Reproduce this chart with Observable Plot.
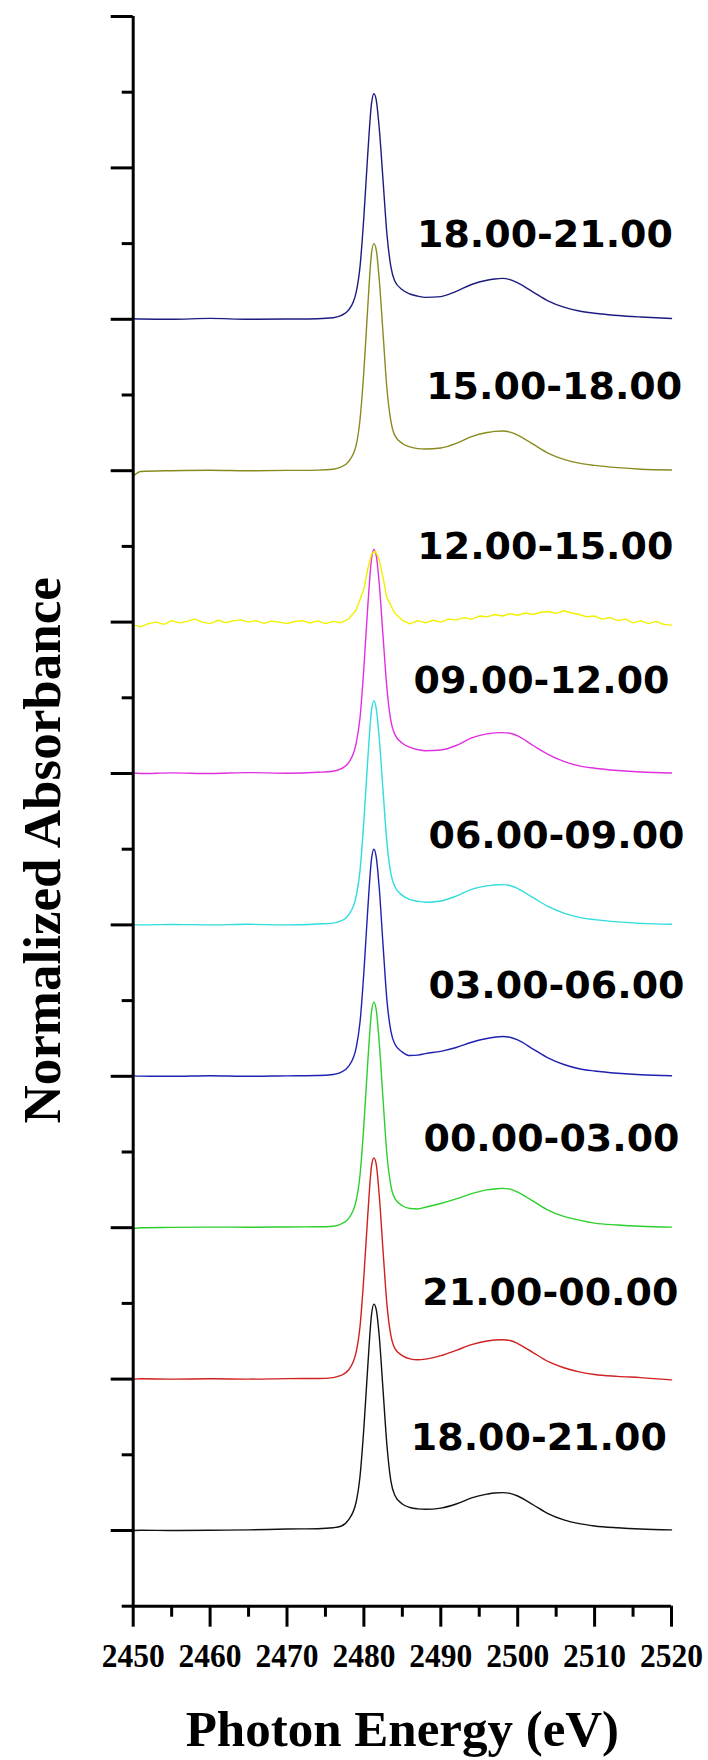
<!DOCTYPE html>
<html>
<head>
<meta charset="utf-8">
<script src="https://cdn.jsdelivr.net/npm/d3@7"></script>
<script src="https://cdn.jsdelivr.net/npm/@observablehq/plot@0.6"></script>
<style>
  html, body { margin: 0; padding: 0; background: #fff; }
  #chart svg { display: block; }
</style>
</head>
<body>
<div id="chart"></div>
<script>
// ---- Data ----
// shared energy grid (eV)
const energy = [2450, 2451, 2455, 2460, 2465, 2470, 2474, 2476, 2477, 2478, 2479, 2479.5, 2480, 2480.5, 2481, 2481.3, 2481.6, 2482, 2482.5, 2483, 2483.5, 2484, 2485, 2486, 2487, 2488, 2490, 2492, 2494, 2496, 2497, 2498, 2499, 2500, 2502, 2504, 2506, 2508, 2510, 2513, 2516, 2520];

const sBlack18 = [0.0, 0.002, 0.0, 0.002, 0.004, 0.01, 0.012, 0.018, 0.028, 0.07, 0.19, 0.36, 0.68, 1.08, 1.43, 1.495, 1.46, 1.28, 0.92, 0.56, 0.33, 0.235, 0.175, 0.152, 0.143, 0.14, 0.148, 0.175, 0.215, 0.24, 0.248, 0.25, 0.245, 0.228, 0.17, 0.11, 0.07, 0.045, 0.03, 0.018, 0.01, 0.004];
const sRed21 = [0.0, 0.002, 0.0, 0.002, 0.0, 0.003, 0.004, 0.01, 0.024, 0.06, 0.18, 0.35, 0.68, 1.08, 1.41, 1.46, 1.42, 1.21, 0.84, 0.49, 0.29, 0.205, 0.155, 0.134, 0.128, 0.132, 0.155, 0.19, 0.228, 0.252, 0.258, 0.26, 0.255, 0.235, 0.175, 0.115, 0.075, 0.048, 0.03, 0.018, 0.01, -0.005];
const sGreen00 = [-0.005, 0.0, 0.002, 0.004, 0.003, 0.005, 0.006, 0.01, 0.024, 0.06, 0.18, 0.35, 0.68, 1.09, 1.43, 1.49, 1.44, 1.22, 0.84, 0.48, 0.28, 0.195, 0.145, 0.127, 0.124, 0.135, 0.16, 0.19, 0.225, 0.25, 0.256, 0.26, 0.255, 0.235, 0.175, 0.115, 0.075, 0.05, 0.03, 0.018, 0.01, 0.004];
const sBlue03 = [0.003, 0.001, 0.0, 0.004, 0.0, 0.003, 0.005, 0.012, 0.026, 0.065, 0.19, 0.36, 0.69, 1.10, 1.44, 1.50, 1.45, 1.24, 0.86, 0.50, 0.30, 0.215, 0.16, 0.137, 0.14, 0.15, 0.165, 0.19, 0.225, 0.25, 0.258, 0.263, 0.258, 0.24, 0.18, 0.12, 0.078, 0.05, 0.035, 0.02, 0.01, 0.004];
const sCyan06 = [0.002, 0.0, 0.003, 0.0, 0.004, 0.0, 0.006, 0.012, 0.026, 0.065, 0.19, 0.36, 0.69, 1.09, 1.42, 1.48, 1.43, 1.23, 0.88, 0.54, 0.34, 0.255, 0.195, 0.167, 0.156, 0.15, 0.158, 0.19, 0.235, 0.258, 0.264, 0.266, 0.26, 0.24, 0.18, 0.12, 0.078, 0.05, 0.035, 0.02, 0.01, 0.004];
const sMagenta09 = [0.003, 0.0, 0.004, 0.0, 0.006, 0.002, 0.008, 0.015, 0.03, 0.07, 0.2, 0.37, 0.70, 1.10, 1.42, 1.48, 1.44, 1.25, 0.90, 0.56, 0.35, 0.26, 0.2, 0.172, 0.158, 0.15, 0.155, 0.185, 0.235, 0.262, 0.268, 0.27, 0.266, 0.248, 0.185, 0.125, 0.08, 0.05, 0.035, 0.02, 0.01, 0.003];
const sOlive15 = [-0.035, -0.005, 0.0, 0.003, 0.0, 0.002, 0.004, 0.01, 0.024, 0.06, 0.17, 0.34, 0.66, 1.08, 1.44, 1.50, 1.46, 1.26, 0.90, 0.54, 0.33, 0.235, 0.18, 0.157, 0.146, 0.143, 0.15, 0.18, 0.225, 0.252, 0.26, 0.262, 0.255, 0.235, 0.175, 0.115, 0.075, 0.05, 0.035, 0.02, 0.01, 0.005];
const sNavy18 = [0.004, 0.002, 0.0, 0.006, 0.0, 0.002, 0.004, 0.01, 0.024, 0.06, 0.18, 0.35, 0.68, 1.09, 1.43, 1.49, 1.45, 1.26, 0.91, 0.56, 0.35, 0.255, 0.195, 0.167, 0.153, 0.145, 0.15, 0.185, 0.23, 0.258, 0.266, 0.27, 0.262, 0.24, 0.18, 0.12, 0.08, 0.055, 0.04, 0.025, 0.015, 0.005];

// the noisy 12.00-15.00 spectrum has its own, denser grid
const energyYellow = [2450, 2451, 2452, 2453, 2454, 2455, 2456, 2457, 2458, 2459, 2460, 2461, 2462, 2463, 2464, 2465, 2466, 2467, 2468, 2469, 2470, 2471, 2472, 2473, 2474, 2475, 2476, 2477, 2478, 2479, 2480, 2480.5, 2481, 2481.5, 2482, 2482.5, 2483, 2484, 2485, 2486, 2487, 2488, 2489, 2490, 2491, 2492, 2493, 2494, 2495, 2496, 2497, 2498, 2499, 2500, 2501, 2502, 2503, 2504, 2505, 2506, 2507, 2508, 2509, 2510, 2511, 2512, 2513, 2514, 2515, 2516, 2517, 2518, 2519, 2520];
const sYellow12 = [-0.02, -0.03, -0.01, 0.0, -0.015, 0.01, -0.005, 0.005, 0.02, 0.0, -0.01, 0.012, -0.004, 0.008, 0.015, 0.0, 0.01, -0.008, 0.006, 0.0, -0.01, 0.004, 0.01, -0.006, 0.008, -0.01, 0.005, -0.004, 0.02, 0.08, 0.22, 0.35, 0.45, 0.47, 0.41, 0.29, 0.16, 0.06, 0.012, -0.012, 0.01, -0.005, 0.012, 0.0, 0.02, 0.015, 0.03, 0.02, 0.04, 0.035, 0.05, 0.04, 0.055, 0.045, 0.06, 0.05, 0.065, 0.07, 0.058, 0.075, 0.06, 0.05, 0.035, 0.04, 0.02, 0.03, 0.01, 0.02, -0.005, 0.01, -0.01, 0.005, -0.015, -0.02];

// series, bottom to top (vertical offset = stack index)
const seriesLabels = ["18.00-21.00", "21.00-00.00", "00.00-03.00", "03.00-06.00", "06.00-09.00", "09.00-12.00", "12.00-15.00", "15.00-18.00", "18.00-21.00"];
const seriesValues = [sBlack18, sRed21, sGreen00, sBlue03, sCyan06, sMagenta09, sYellow12, sOlive15, sNavy18];
const seriesEnergies = [energy, energy, energy, energy, energy, energy, energyYellow, energy, energy];
const seriesOffsets = [0, 1, 2, 3, 4, 5, 6, 7, 8];
const seriesColors = ["#111111", "#d02020", "#2cd02c", "#2020b0", "#30dcdc", "#e030e0", "#f0f000", "#8a8a1e", "#1c1c80"];
const seriesCurves = ["monotone-x", "monotone-x", "monotone-x", "monotone-x", "monotone-x", "monotone-x", "linear", "monotone-x", "monotone-x"];

// label anchors (data coordinates)
const labelEnergy = [2486.1, 2487.6, 2487.75, 2488.4, 2488.4, 2486.45, 2486.95, 2488.1, 2486.9];
const labelLevel = [0.61, 1.57, 2.59, 3.60, 4.59, 5.615, 6.495, 7.555, 8.555];

// axes
const xMajor = [2450, 2460, 2470, 2480, 2490, 2500, 2510, 2520];
const xMinor = [2455, 2465, 2475, 2485, 2495, 2505, 2515];
const yMajor = [0, 1, 2, 3, 4, 5, 6, 7, 8, 9, 10];
const yMinor = [-0.5, 0.5, 1.5, 2.5, 3.5, 4.5, 5.5, 6.5, 7.5, 8.5, 9.5];
const xDomain = [2450, 2520];
const yDomain = [-0.5, 10];

// ---- Build ----
const lines = seriesValues.map((vals, i) => {
  const rows = vals.map((v, j) => ({E: seriesEnergies[i][j], v: v + seriesOffsets[i]}));
  return Plot.line(rows, {x: "E", y: "v", stroke: seriesColors[i], strokeWidth: 1.4, curve: seriesCurves[i]});
});

const labelRows = seriesLabels.map((t, i) => ({t, E: labelEnergy[i], v: labelLevel[i]}));

const chart = Plot.plot({
  width: 708,
  height: 1760,
  marginLeft: 132.7,
  marginRight: 37,
  marginTop: 16,
  marginBottom: 154.3,
  style: {background: "white", overflow: "visible"},
  x: {domain: xDomain},
  y: {domain: yDomain},
  marks: [
    ...lines,
    Plot.text(labelRows, {x: "E", y: "v", text: "t", textAnchor: "start", lineAnchor: "middle",
      fontFamily: "DejaVu Sans", fontWeight: "bold", fontSize: 38, fill: "#000"}),
    Plot.axisY({ticks: yMajor, tickSize: 22, strokeWidth: 3, tickFormat: () => "", label: null}),
    Plot.axisY({ticks: yMinor, tickSize: 11, strokeWidth: 3, tickFormat: () => "", label: null}),
    Plot.axisX({ticks: xMinor, tickSize: 11, strokeWidth: 3, tickFormat: () => "", label: null}),
    Plot.axisX({ticks: xMajor, tickSize: 21, strokeWidth: 3, tickPadding: 16, tickFormat: d => String(d),
      fontFamily: "Liberation Serif", fontWeight: "bold", fontSize: 33, label: null}),
    Plot.ruleX([xDomain[0]], {y1: yDomain[0], y2: yDomain[1], strokeWidth: 3, stroke: "#000"}),
    Plot.ruleY([yDomain[0]], {x1: xDomain[0], x2: xDomain[1], strokeWidth: 3, stroke: "#000"}),
    Plot.text(["Photon Energy (eV)"], {text: d => d, frameAnchor: "bottom", lineAnchor: "bottom", dy: 140,
      fontFamily: "Liberation Serif", fontWeight: "bold", fontSize: 51, fill: "#000"}),
    Plot.text(["Normalized Absorbance"], {text: d => d, frameAnchor: "left", textAnchor: "middle", lineAnchor: "bottom", rotate: -90, dx: -73, dy: 39,
      fontFamily: "Liberation Serif", fontWeight: "bold", fontSize: 53, fill: "#000"})
  ]
});

document.getElementById("chart").appendChild(chart);

// squeeze text widths to the reference proportions
const labelSet = new Set(seriesLabels);
const tickSet = new Set(xMajor.map(String));
d3.select(chart).selectAll("text").each(function() {
  const t = this.textContent;
  if (labelSet.has(t)) d3.select(this).attr("textLength", 256).attr("lengthAdjust", "spacingAndGlyphs");
  else if (tickSet.has(t)) d3.select(this).attr("textLength", 63).attr("lengthAdjust", "spacingAndGlyphs");
});
</script>
</body>
</html>
